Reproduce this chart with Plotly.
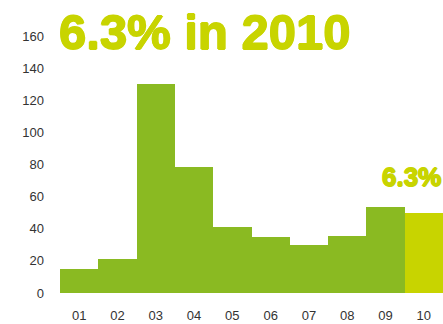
import plotly.graph_objects as go

# Yearly values, 2001-2010
years = ["01", "02", "03", "04", "05", "06", "07", "08", "09", "10"]
values = [15, 21, 130, 78.5, 41, 35, 30, 35.5, 53.5, 50]
y_ticks = [0, 20, 40, 60, 80, 100, 120, 140, 160]

GREEN = "#8aba22"
LIME = "#c8d400"
bar_colors = [GREEN] * (len(years) - 1) + [LIME]

# thicker strokes for the headline figures
heavy = f"0.8px 0 0 {LIME}, -0.8px 0 0 {LIME}, 0 0.6px 0 {LIME}, 0 -0.6px 0 {LIME}"

fig = go.Figure(
    go.Bar(
        x=list(range(len(years))),
        y=values,
        marker=dict(color=bar_colors, line=dict(width=0)),
        hoverinfo="skip",
    )
)

fig.update_layout(
    width=443,
    height=324,
    margin=dict(l=60, r=0, t=20, b=31),
    paper_bgcolor="white",
    plot_bgcolor="white",
    bargap=0,
    showlegend=False,
    font=dict(family="Liberation Sans, Arial, sans-serif", size=13, color="#333333"),
    xaxis=dict(
        range=[-0.5, len(years) - 0.5],
        tickmode="array",
        tickvals=list(range(len(years))),
        ticktext=years,
        showgrid=False,
        zeroline=False,
        showline=False,
        ticks="",
        ticklabelstandoff=13,
        fixedrange=True,
    ),
    yaxis=dict(
        range=[0, 170],
        tickmode="array",
        tickvals=y_ticks,
        showgrid=False,
        zeroline=False,
        showline=False,
        ticks="",
        ticklabelstandoff=15,
        fixedrange=True,
    ),
    annotations=[
        dict(
            text="<b>6.3% in 2010</b>",
            xref="paper", yref="paper",
            x=0, y=0.955,
            xanchor="left", yanchor="middle",
            xshift=-3,
            showarrow=False,
            font=dict(family="Liberation Sans, Arial, sans-serif", size=49,
                      color=LIME, shadow=heavy),
        ),
        dict(
            text="<b>6.3%</b>",
            x=9, y=values[-1] + 22,
            xref="x", yref="y",
            xanchor="left", yanchor="middle",
            xshift=-44,
            showarrow=False,
            font=dict(family="Liberation Sans, Arial, sans-serif", size=26,
                      color=LIME, shadow=heavy),
        ),
    ],
)

fig.write_html("out.html")
